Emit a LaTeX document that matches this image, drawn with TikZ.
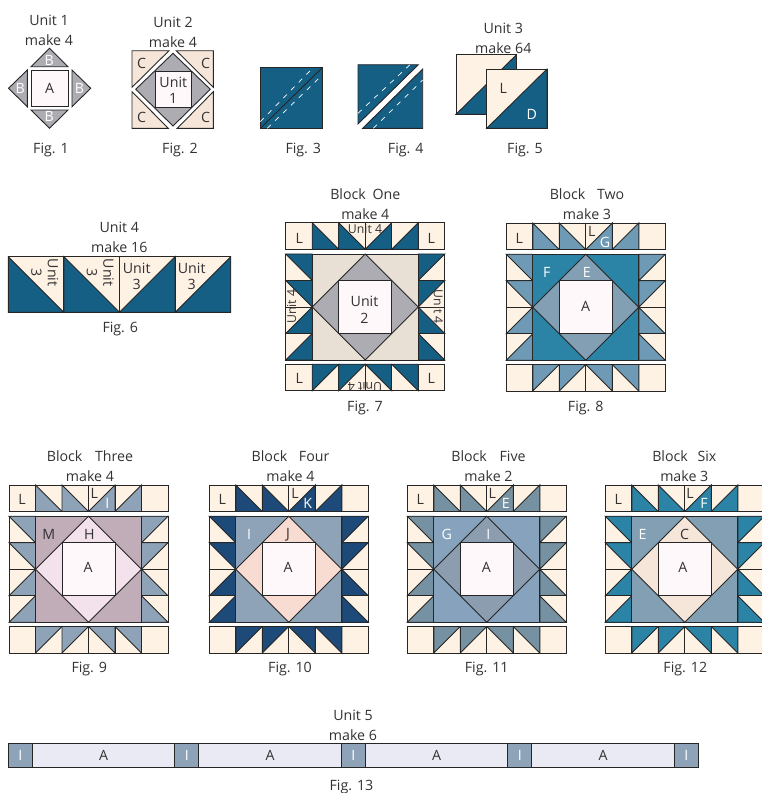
\documentclass[tikz,border=0pt]{standalone}
\usepackage{fontspec}
\setmainfont{Open Sans}
\usepackage{xcolor}
\usetikzlibrary{positioning}
\definecolor{inktext}{HTML}{333233}
\definecolor{cream}{HTML}{FEF2E5}
\definecolor{blush}{HTML}{FFF8FA}
\definecolor{navy}{HTML}{155F85}
\definecolor{graypt}{HTML}{ADACB2}
\definecolor{peachc}{HTML}{F6E6D9}
\definecolor{taupe}{HTML}{E8DFD5}
\definecolor{slatesk}{HTML}{6F9AB5}
\definecolor{teal}{HTML}{2B83A6}
\definecolor{steel}{HTML}{829FB3}
\definecolor{slatei}{HTML}{8FA3B8}
\definecolor{mauve}{HTML}{C0ADB7}
\definecolor{pinkh}{HTML}{F3E1EB}
\definecolor{deepk}{HTML}{1D4A78}
\definecolor{peachj}{HTML}{F8DCD2}
\definecolor{slatee}{HTML}{7691A1}
\definecolor{blueg}{HTML}{86A2BD}
\definecolor{slatef}{HTML}{8B9DAF}
\definecolor{palea}{HTML}{E9EAF3}

\tikzset{
  patch/.style={draw=black!85,line width=0.9pt,line join=miter},
  stitch/.style={white,line width=0.7pt,dash pattern=on 5pt off 6pt},
  lbl/.style={font=\fontsize{14.2}{16.5}\selectfont,text=inktext,align=center,inner sep=0pt},
  wlbl/.style={lbl,text=white},
  titlelbl/.style={font=\fontsize{14.2}{20}\selectfont,text=inktext,align=center,inner sep=0pt},
  smalllbl/.style={lbl,font=\fontsize{12.3}{13}\selectfont}
}

\newcommand{\hstcell}[5]{
  \filldraw[patch,fill=cream] (#1,#2) rectangle ++(1,1);
  \filldraw[patch,fill=#5] (#1+#3,#2+#4) -- (#1+1-#3,#2+#4) -- (#1+#3,#2+1-#4) -- cycle;
}
\newcommand{\quiltblock}[5]{
  \begin{scope}[shift={(#1,#2)},x=26.5pt,y=-26.5pt]
    \foreach \c in {0,5} \foreach \r in {0,5.34} \filldraw[patch,fill=cream] (\c,\r) rectangle ++(1,1);
    \foreach \c/\a in {1/0,2/0,3/1,4/1} {
      \hstcell{\c}{0}{\a}{1}{#3}
      \hstcell{\c}{5.34}{\a}{0}{#3}
    }
    \foreach \r/\b in {1.18/0,2.18/0,3.18/1,4.18/1} {
      \hstcell{0}{\r}{1}{\b}{#3}
      \hstcell{5}{\r}{0}{\b}{#3}
    }
    \filldraw[patch,fill=#4] (1,1.18) rectangle (5,5.18);
    \filldraw[patch,fill=#5] (3,1.18) -- (5,3.18) -- (3,5.18) -- (1,3.18) -- cycle;
    \filldraw[patch,fill=blush] (2,2.18) rectangle (4,4.18);
  \end{scope}
}

\begin{document}
\begin{tikzpicture}[x=1pt,y=-1pt]
  \useasboundingbox (0,0) rectangle (762,793);

  % fig 1
  \filldraw[patch,fill=graypt] (31,66.7) -- (68,66.7) -- (49.5,48.3) -- cycle;
  \filldraw[patch,fill=graypt] (31,110) -- (68,110) -- (49.5,128.3) -- cycle;
  \filldraw[patch,fill=graypt] (27.3,70) -- (27.3,106.7) -- (8.5,88.3) -- cycle;
  \filldraw[patch,fill=graypt] (72,70) -- (72,106.7) -- (90.7,88.3) -- cycle;
  \filldraw[patch,fill=blush] (31.3,70) rectangle (68.3,106.7);

  % fig 2
  \filldraw[patch,fill=peachc] (132,50.7) -- (169,50.7) -- (132,87.3) -- cycle;
  \filldraw[patch,fill=peachc] (176.3,50.7) -- (213.3,50.7) -- (213.3,87.3) -- cycle;
  \filldraw[patch,fill=peachc] (132,91.7) -- (132,128.3) -- (168.3,128.3) -- cycle;
  \filldraw[patch,fill=peachc] (213.3,91.7) -- (213.3,128.3) -- (177.3,128.3) -- cycle;
  \filldraw[patch,fill=graypt] (173,53.3) -- (210.3,89.3) -- (173,126) -- (135.7,89.3) -- cycle;
  \filldraw[patch,fill=blush] (155.3,71.7) rectangle (191.3,107.3);

  % fig 3 and 4
  \filldraw[patch,fill=navy] (260.3,67.7) rectangle (322.3,128.3);
  \draw[patch] (260.3,128.3) -- (322.3,67.7);
  \draw[stitch] (260.3,121.7) -- (311.7,69);
  \draw[stitch] (267.3,128.3) -- (320,77.3);
  \filldraw[patch,fill=navy] (358,64.7) -- (418.3,64.7) -- (358,124) -- cycle;
  \filldraw[patch,fill=navy] (422.7,69) -- (422.7,128.3) -- (362.7,128.3) -- cycle;
  \draw[stitch] (358,113.3) -- (410,64.7);
  \draw[stitch] (373.3,128.3) -- (422.7,80);

  % fig 5
  \begin{scope}[shift={(456,54.7)},x=60.5pt,y=-59.6pt]
    \hstcell{0}{0}{1}{1}{navy}
  \end{scope}
  \begin{scope}[shift={(486.7,69)},x=60.3pt,y=-59.3pt]
    \hstcell{0}{0}{1}{1}{navy}
  \end{scope}

  % fig 6
  \begin{scope}[shift={(8.3,256.7)},x=55.6pt,y=-55.6pt]
    \foreach \c/\a in {0/0,1/0,2/1,3/1} {
      \hstcell{\c}{0}{\a}{1}{navy}
    }
  \end{scope}

  \quiltblock{285.7}{222.7}{navy}{taupe}{graypt}
  \quiltblock{506.3}{223}{slatesk}{teal}{steel}
  \quiltblock{9}{485}{slatei}{mauve}{pinkh}
  \quiltblock{209.3}{485}{deepk}{slatei}{peachj}
  \quiltblock{407.3}{485}{slatee}{blueg}{slatef}
  \quiltblock{605.3}{485}{teal}{steel}{peachc}

  % fig 13
  \foreach \i in {0,...,4} {
    \filldraw[patch,fill=slatei] (8.3+166.5*\i,743.3) rectangle ++(24,24);
    \node[wlbl] (stripi\i) at (20.3+166.5*\i,755.3) {I};
  }
  \foreach \i in {0,...,3} {
    \filldraw[patch,fill=palea] (32.3+166.5*\i,743.3) rectangle ++(142.5,24);
    \node[lbl] (stripa\i) at (103.5+166.5*\i,755.3) {A};
  }

  % titles
  \node[titlelbl] (tone) at (49,30) {Unit 1\\make 4};
  \node[titlelbl] (ttwo) at (173,32) {Unit 2\\make 4};
  \node[titlelbl] (tfive) at (503.3,38) {Unit 3\\make 64};
  \node[titlelbl] (tsix) at (119.3,237.7) {Unit 4\\make 16};
  \node[titlelbl] (tseven) at (365.3,204) {Block \hspace{3pt}One\\make 4};
  \node[titlelbl] (teight) at (587,204) {Block \hspace{8pt}Two\\make 3};
  \node[titlelbl] (tnine) at (90,466) {Block \hspace{9pt}Three\\make 4};
  \node[titlelbl] (tten) at (290.5,466) {Block \hspace{8pt}Four\\make 4};
  \node[titlelbl] (televen) at (488.5,466) {Block \hspace{9pt}Five\\make 2};
  \node[titlelbl] (ttwelve) at (684.3,466) {Block \hspace{6pt}Six\\make 3};
  \node[titlelbl] (tthirteen) at (353,725) {Unit 5\\make 6};

  % captions
  \foreach \fg/\px/\py/\cap in {
    fone/51/149.5/Fig. 1, ftwo/180/149.5/Fig. 2, fthree/303.3/149.5/Fig. 3,
    ffour/405.7/149.5/Fig. 4, ffive/525/149.5/Fig. 5, fsix/120.3/329/Fig. 6,
    fseven/365/408/Fig. 7, feight/585.7/408/Fig. 8, fnine/89.3/668.5/Fig. 9,
    ften/290/668.5/Fig. 10, feleven/486.7/668.5/Fig. 11, ftwelve/685.3/668.5/Fig. 12,
    fthirteen/353.3/787/Fig. 13
  } {
    \node[lbl] (\fg) at (\px,\py) {\cap};
  }

  % dark letters
  \foreach \fg/\px/\py/\cap in {
    a1/49.5/88.3/A, c1/141.7/63.3/C, c2/205.7/63.3/C, c3/141.7/117.3/C, c4/205.7/117.3/C,
    l5/503.3/88.7/L,
    l7a/299.3/238.3/L, l7b/431.3/238.3/L, l7c/299.3/378.3/L, l7d/431.3/378.3/L,
    l8a/519.3/238.3/L, l8b/591.7/231/L, a8/585.7/306.7/A,
    l9a/22/499.3/L, l9b/94.3/493.3/L, m9/48.7/534.3/M, h9/89.3/534.3/H, a9/88/567.7/A,
    l10a/222.3/499.3/L, l10b/295/493.3/L, j10/288/534.3/J, a10/288/567.7/A,
    l11a/420.3/499.3/L, l11b/492.3/493.3/L, a11/486.3/567.7/A,
    l12a/618.3/499.3/L, l12b/690/493.3/L, c12/684.7/534.3/C, a12/684.7/567.7/A
  } {
    \node[lbl] (\fg) at (\px,\py) {\cap};
  }

  % white letters
  \foreach \fg/\px/\py/\cap in {
    b1/49.3/60/B, b2/20.3/88.3/B, b3/79.5/88.3/B, b4/49.3/116.7/B, d5/531.7/114/D,
    g8/605/242.7/G, f8/546.7/272.3/F, e8/586.7/272.3/E,
    i9/107.3/503.3/I, k10/307.7/503.7/K, i10/249/534.3/I,
    e11/505.7/503.7/E, g11/446.7/534.3/G, i11/488.3/534.3/I,
    f12/704/503.7/F, e12/644.3/534.3/E
  } {
    \node[wlbl] (\fg) at (\px,\py) {\cap};
  }

  % unit labels
  \node[lbl] (u1) at (173.3,90.5) {Unit\\1};
  \node[lbl] (u2) at (364.5,310) {Unit\\2};
  \node[lbl] (u6c) at (136.7,276.3) {Unit\\3};
  \node[lbl] (u6d) at (191.7,276.3) {Unit\\3};
  \node[lbl,rotate=-90] (u6a) at (44.7,272.7) {Unit\\3};
  \node[lbl,rotate=-90] (u6b) at (100.3,272.7) {Unit\\3};
  \node[smalllbl] (u7t) at (365,229.3) {Unit 4};
  \node[smalllbl,rotate=90] (u7l) at (291.7,306.7) {Unit 4};
  \node[smalllbl,rotate=-90] (u7r) at (438.3,306.7) {Unit 4};
  \node[smalllbl,rotate=180] (u7b) at (365,386.7) {Unit 4};
\end{tikzpicture}
\end{document}
